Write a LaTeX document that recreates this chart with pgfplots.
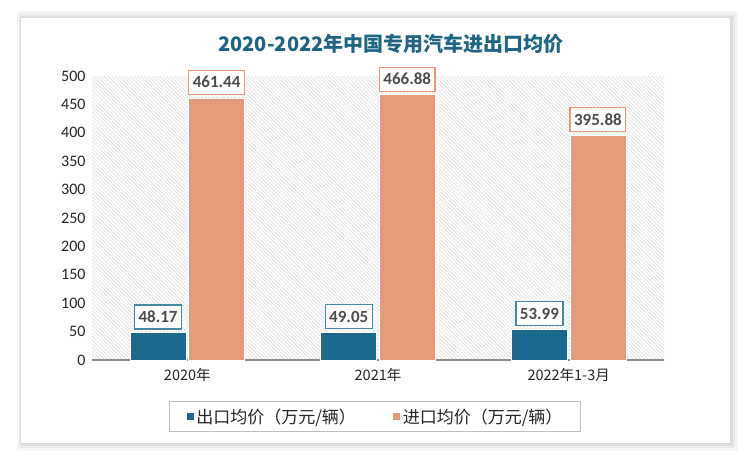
\documentclass[border=0pt]{standalone}
\usepackage{pgfplots}
\pgfplotsset{compat=1.18}
\usepackage{fontspec}
\setmainfont{Carlito}
\newfontfamily\cjk{Noto Sans CJK SC}
\usetikzlibrary{patterns.meta}
\definecolor{expc}{HTML}{1B6A8E}
\definecolor{impc}{HTML}{E59A79}
\definecolor{ttl}{HTML}{1F6483}
\definecolor{lbl}{HTML}{4D4D4D}
\begin{document}
\begin{tikzpicture}[x=1pt,y=1pt]
\useasboundingbox (0,0) rectangle (750,461);
\fill[white] (0,0) rectangle (750,461);
\fill[black!4] (17,10) rectangle (738,450);
\fill[black!8] (19,13) rectangle (735,447);
\fill[black!12] (21,15) rectangle (733,445);
\fill[white] (20,18) rectangle (730,444);
\draw[black!15, line width=0.8pt] (20,18) rectangle (730,444);
\node[font=\cjk\bfseries\fontsize{20}{20}\selectfont, text=ttl] at (391,417) {2020-2022年中国专用汽车进出口均价};
\begin{axis}[
  at={(92pt,101pt)}, anchor=south west,
  scale only axis, width=572pt, height=284pt,
  xmin=-0.5, xmax=2.5, ymin=0, ymax=500,
  clip=false,
  ytick={0,50,...,500},
  xtick={0,1,2},
  xticklabels={2020年,2021年,2022年1-3月},
  axis lines*=left,
  y axis line style={draw=none},
  x axis line style={draw=black!45, line width=1.2pt},
  major tick length=0pt,
  /pgf/number format/assume math mode=true,
  yticklabel style={font=\fontsize{16}{16}\selectfont, text=black!85, xshift=-3pt},
  xticklabel style={font=\cjk\fontsize{14.5}{14.5}\selectfont, text=black!85, yshift=-5pt},
  axis background/.style={pattern={Lines[angle=-45,distance=2.6pt,line width=0.5pt]}, pattern color=black!16},
  ybar, bar width=56pt,
  point meta=explicit symbolic,
  nodes near coords,
  nodes near coords style={fill=white, text=lbl, font=\bfseries\fontsize{17}{17}\selectfont, inner xsep=4pt, minimum height=24pt, anchor=south, yshift=3pt, line width=1.3pt},
  legend style={at={(0.5,0)}, anchor=north, yshift=-41pt, xshift=-3pt, draw=black!25, line width=1pt,
    font=\cjk\fontsize{17}{17}\selectfont, text=black!85, legend columns=2,
    inner xsep=16pt, inner ysep=5pt,
    /tikz/every even column/.append style={column sep=34pt}},
  legend image code/.code={\fill[#1] (0pt,-4pt) rectangle (8pt,4pt);},
]
\addplot[fill=expc, draw=white, line width=0.8pt, bar shift=-29.25pt,
  every node near coord/.append style={draw=expc!80}]
  coordinates {(0,48.17) [48.17] (1,49.05) [49.05] (2,53.99) [53.99]};
\addlegendentry{出口均价（万元/辆）}
\addplot[fill=impc, draw=white, line width=0.8pt, bar shift=29.25pt,
  every node near coord/.append style={draw=impc}]
  coordinates {(0,461.44) [461.44] (1,466.88) [466.88] (2,395.88) [395.88]};
\addlegendentry{进口均价（万元/辆）}
\end{axis}
\end{tikzpicture}
\end{document}
